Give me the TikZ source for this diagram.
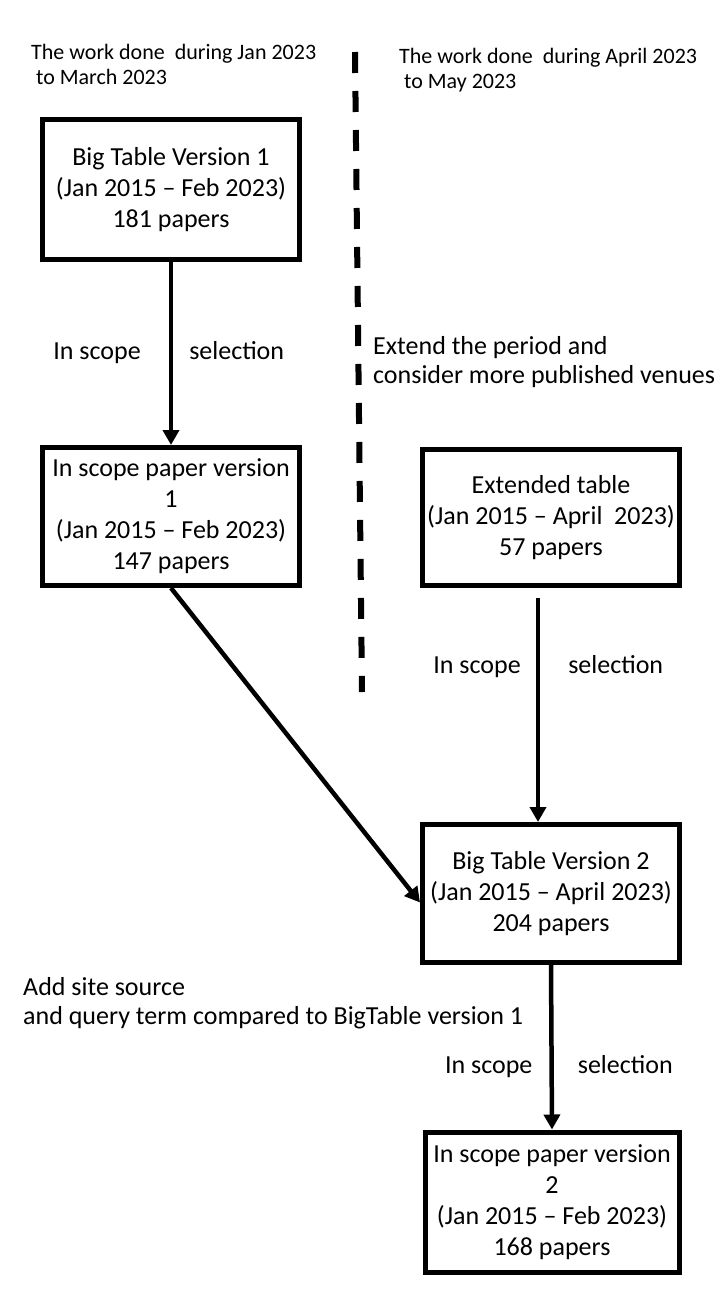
\documentclass[tikz,border=0pt]{standalone}
\usepackage{fontspec}
\setmainfont{Carlito}
\usetikzlibrary{arrows.meta}

\begin{document}
\begin{tikzpicture}[x=1pt, y=-1pt, line join=miter,
    >={Triangle[length=15pt, width=16pt]},
    box/.style={draw, line width=5pt, minimum width=257pt, align=center, inner sep=0pt,
        font=\fontsize{26}{31}\selectfont},
    note/.style={anchor=west, align=left, inner sep=0pt, font=\fontsize{26}{29}\selectfont},
    lbl/.style={inner sep=0pt, text height=18pt, text depth=6pt, font=\fontsize{26}{31}\selectfont}]
    \useasboundingbox (0,0) rectangle (720,1303);
    % Periods and divider
    \node[note, font=\fontsize{22}{25}\selectfont] (per1) at (31,64.5) {The work done~ during Jan 2023\\~to March 2023};
    \node[note, font=\fontsize{22}{25}\selectfont] (per2) at (399,70.5) {The work done~ during April 2023\\~to May 2023};
    \coordinate (dtop) at (355,52);
    \coordinate (dbot) at (362,692);
    \draw[line width=6pt, dash pattern=on 21pt off 18pt] (dtop) -- (dbot);
    % Boxes
    \node[box, minimum height=140pt] (big1) at (171,189.5) {Big Table Version 1\\(Jan 2015 -- Feb 2023)\\181 papers};
    \node[box, minimum height=138pt] (scope1) at (171,516.5) {In scope paper version\\1\\(Jan 2015 -- Feb 2023)\\147 papers};
    \node[box, minimum height=136pt] (ext) at (551,517.5) {Extended table\\(Jan 2015 -- April~ 2023)\\57 papers};
    \node[box, minimum height=138pt] (big2) at (551,893.5) {Big Table Version 2\\(Jan 2015 -- April 2023)\\204 papers};
    \node[box, minimum width=254pt, minimum height=140pt] (scope2) at (552,1202) {In scope paper version\\2\\(Jan 2015 -- Feb 2023)\\168 papers};
    % Notes
    \node[note] (extnote) at (373,362) {Extend the period and\\consider more published venues};
    \node[note] (addnote) at (23,1003) {Add site source\\and query term compared to BigTable version 1};
    % Arrows
    \draw[->, line width=4.5pt] (big1.south) -- (scope1.north)
        node[lbl, midway, left=28pt] (in1) {In scope}
        node[lbl, midway, right=16pt] (sel1) {selection};
    \draw[->, line width=4.5pt] (scope1.south) -- ([yshift=-9pt]big2.west);
    \draw[->, line width=4.5pt] ([xshift=-13pt, yshift=-10pt]ext.south) -- ([xshift=-13pt]big2.north)
        node[lbl, pos=0.31, left=15pt] (in2) {In scope}
        node[lbl, pos=0.31, right=28pt] (sel2) {selection};
    \draw[->, line width=4.5pt] (big2.south) -- (scope2.north)
        node[lbl, pos=0.62, left=17pt] (in3) {In scope}
        node[lbl, pos=0.62, right=24pt] (sel3) {selection};
\end{tikzpicture}
\end{document}
